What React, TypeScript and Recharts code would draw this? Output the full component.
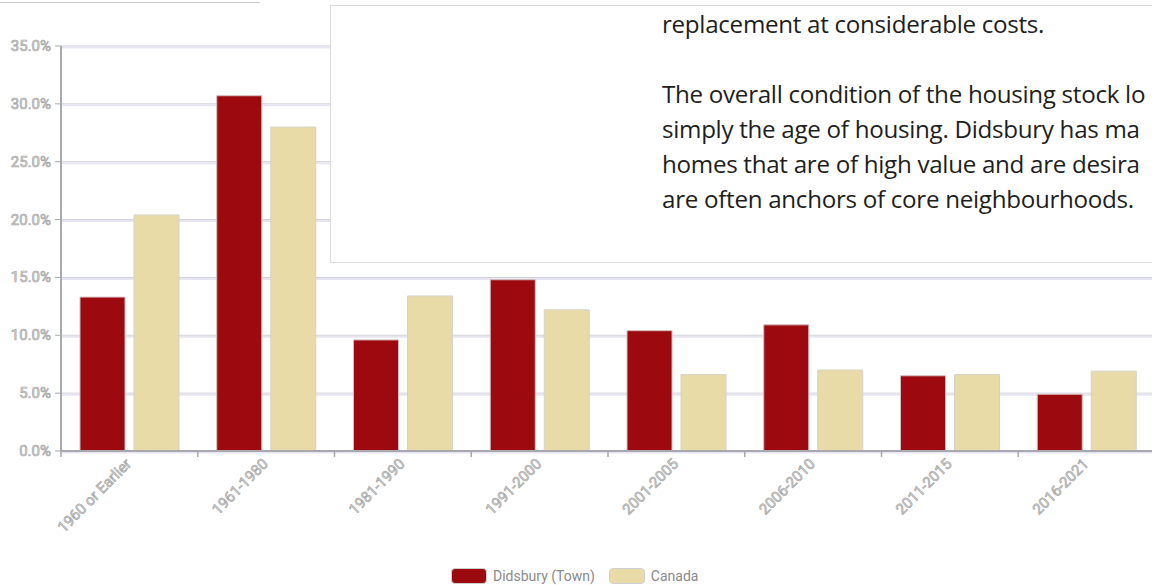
import React from 'react';
import { BarChart, Bar, XAxis, YAxis, CartesianGrid } from 'recharts';

const categories = [
  '1960 or Earlier',
  '1961-1980',
  '1981-1990',
  '1991-2000',
  '2001-2005',
  '2006-2010',
  '2011-2015',
  '2016-2021',
];
const didsbury = [13.3, 30.7, 9.6, 14.8, 10.4, 10.9, 6.5, 4.9];
const canada = [20.4, 28.0, 13.4, 12.2, 6.6, 7.0, 6.6, 6.9];
const yTicks = [0, 5, 10, 15, 20, 25, 30, 35];

const data = categories.map((label, i) => ({ label, didsbury: didsbury[i], canada: canada[i] }));

const RED = '#9c0a10';
const BEIGE = '#e8dba7';

const labelFont = 'Roboto, "DejaVu Sans", sans-serif';

const GridLine = (props: any) => {
  const { x1, x2, y1 } = props;
  return (
    <g>
      <line x1={x1} x2={x2} y1={y1} y2={y1} stroke="#cfcfd6" strokeWidth={1} />
      <line x1={x1} x2={x2} y1={y1 + 1.5} y2={y1 + 1.5} stroke="#e6e6f2" strokeWidth={2} />
    </g>
  );
};

// category label plus a small tick at the left edge of the band
const XTick = (props: any) => {
  const { x, y, payload, width } = props;
  const half = width / categories.length / 2;
  return (
    <g>
      <line x1={x - half} x2={x - half} y1={y - 8} y2={y - 2} stroke="#a8a8ae" strokeWidth={1.5} />
      <g transform={`translate(${x},${y + 3})`}>
        <text
          textAnchor="end"
          transform="rotate(-45)"
          fontFamily={labelFont}
          fontSize={15}
          fill="#d8d8d8"
          stroke="#a8a8a8"
          strokeWidth={0.7}
          dy={4}
        >
          {payload.value}
        </text>
      </g>
    </g>
  );
};

const YTick = (props: any) => {
  const { x, y, payload } = props;
  return (
    <text
      x={x - 2}
      y={y}
      dy={5}
      textAnchor="end"
      fontFamily={labelFont}
      fontSize={15}
      fill="#d8d8d8"
      stroke="#a8a8a8"
      strokeWidth={0.7}
    >
      {`${payload.value.toFixed(1)}%`}
    </text>
  );
};

// the text panel in front of the chart is cut off by the page edge
const textLines = [
  'replacement at considerable costs.',
  '',
  'The overall condition of the housing stock lo',
  'simply the age of housing. Didsbury has ma',
  'homes that are of high value and are desira',
  'are often anchors of core neighbourhoods.',
];

const legendItems = [
  { name: 'Didsbury (Town)', color: RED },
  { name: 'Canada', color: BEIGE },
];

export default function App() {
  return (
    <div
      style={{
        position: 'fixed',
        left: 0,
        top: 0,
        width: 1152,
        height: 585,
        overflow: 'hidden',
        background: '#fff',
      }}
    >
      <div style={{ position: 'absolute', left: 0, top: 2, width: 260, height: 1, background: '#c8c8c8' }} />
      <BarChart
        width={1165}
        height={585}
        data={data}
        margin={{ top: 46, right: 10, bottom: 44, left: 6 }}
        barSize={45}
        barGap={9}
      >
        <CartesianGrid vertical={false} horizontal={GridLine as any} />
        <XAxis
          dataKey="label"
          interval={0}
          height={90}
          tick={<XTick />}
          axisLine={{ stroke: '#a8a8ae', strokeWidth: 2 }}
          tickLine={false}
        />
        <YAxis
          domain={[0, 35]}
          ticks={yTicks}
          width={55}
          tick={<YTick />}
          axisLine={{ stroke: '#a8a8ae', strokeWidth: 2 }}
          tickLine={{ stroke: '#a8a8ae' }}
          tickSize={6}
        />
        <Bar dataKey="didsbury" fill={RED} stroke="#d2bcbc" strokeWidth={1} isAnimationActive={false} />
        <Bar dataKey="canada" fill={BEIGE} stroke="#d4d2c8" strokeWidth={1} isAnimationActive={false} />
      </BarChart>
      <div
        style={{
          position: 'absolute',
          left: 330,
          top: 5,
          width: 900,
          height: 258,
          background: '#fff',
          border: '1px solid #dcdcdc',
          boxSizing: 'border-box',
        }}
      >
        <div
          style={{
            position: 'absolute',
            left: 331,
            top: 0,
            fontFamily: '"Open Sans", sans-serif',
            fontSize: 24.2,
            letterSpacing: -0.3,
            lineHeight: '35px',
            color: '#1e1e1e',
            whiteSpace: 'pre',
          }}
        >
          {textLines.map((t, i) => (
            <div key={i} style={{ height: 35 }}>
              {t}
            </div>
          ))}
        </div>
      </div>
      <div
        style={{
          position: 'absolute',
          left: 451,
          top: 568,
          display: 'flex',
          alignItems: 'center',
          fontFamily: labelFont,
          fontSize: 14,
          color: '#8a8a8a',
        }}
      >
        {legendItems.map((it) => (
          <div key={it.name} style={{ display: 'flex', alignItems: 'center', marginRight: 14 }}>
            <div
              style={{
                width: 36,
                height: 16,
                borderRadius: 4,
                background: it.color,
                border: '1px solid #d0d0d0',
                boxSizing: 'border-box',
                marginRight: 6,
              }}
            />
            <span>{it.name}</span>
          </div>
        ))}
      </div>
    </div>
  );
}
